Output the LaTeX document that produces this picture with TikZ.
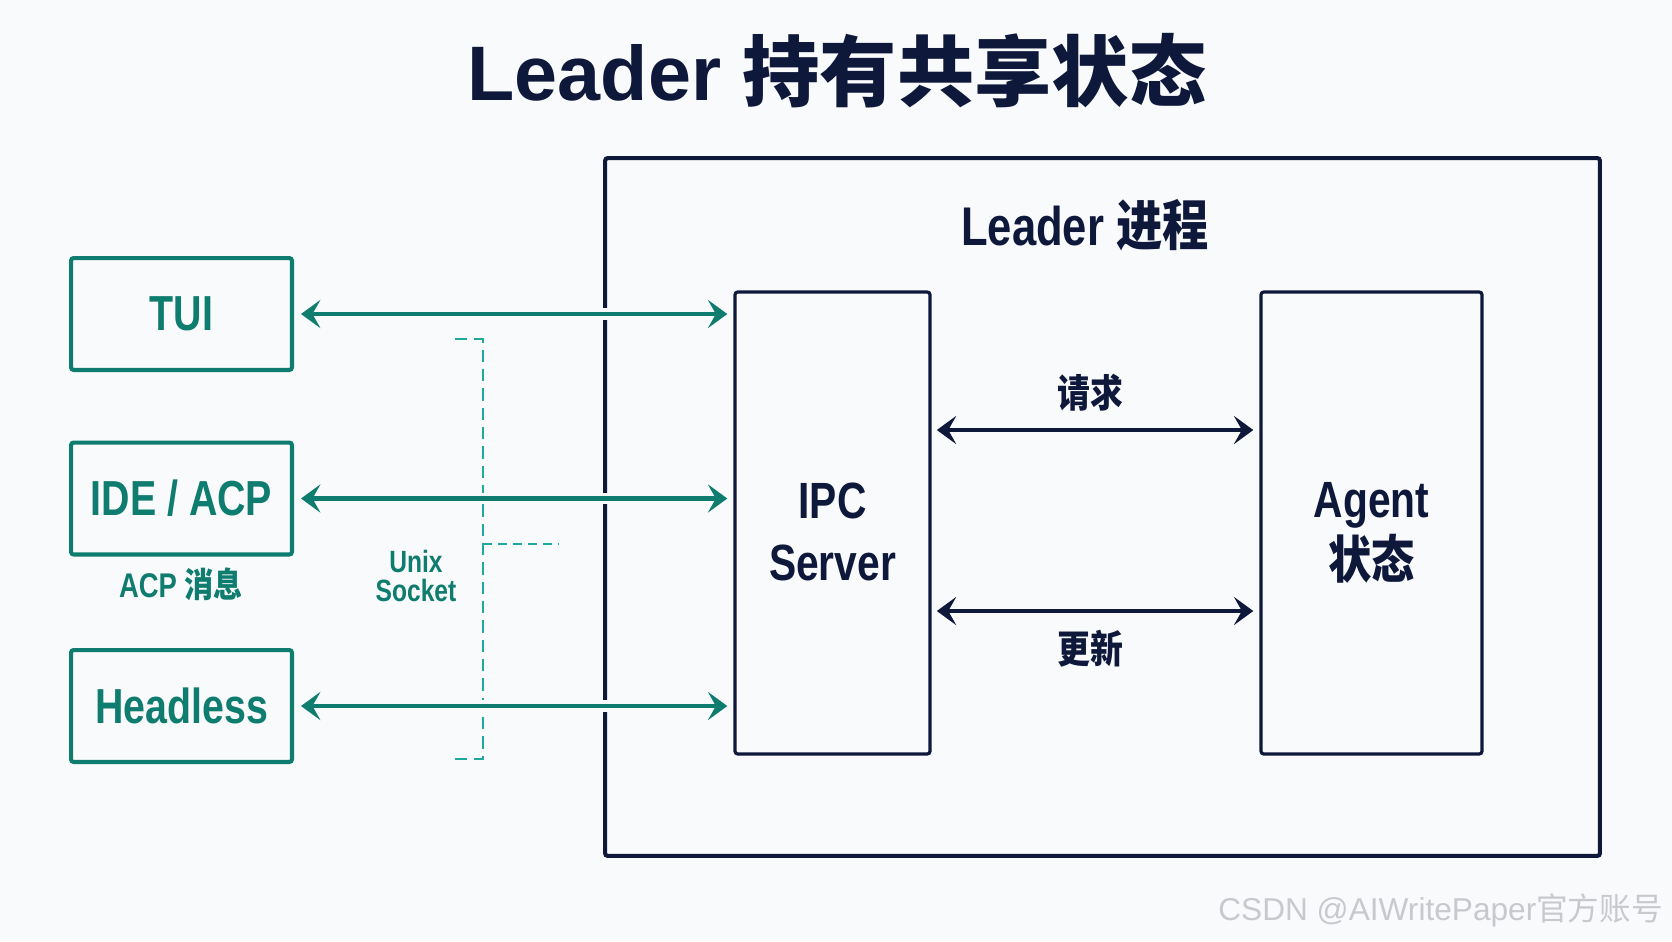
\documentclass[tikz,border=0pt]{standalone}
\usepackage{fontspec}
\usetikzlibrary{arrows.meta,positioning,calc}
\setmainfont{Liberation Sans}
\newfontfamily\narrowsf[FakeStretch=0.8]{Liberation Sans}
\newfontfamily\cjk{Noto Sans CJK SC}
\newfontfamily\narrowcjk[FakeStretch=0.85]{Noto Sans CJK SC}
\definecolor{NavyInk}{RGB}{14,24,58}
\definecolor{TealInk}{RGB}{14,124,110}
\definecolor{DashTeal}{RGB}{30,168,158}
\definecolor{PaperBg}{RGB}{249,250,252}
\definecolor{MarkGray}{RGB}{200,201,206}
\newcommand{\zh}[1]{{\narrowcjk #1}}
\tikzset{
  clientbox/.style={draw=TealInk,line width=2.3pt,rounded corners=1.5pt,
    minimum width=4.42cm,minimum height=2.24cm,inner sep=0pt,text=TealInk,
    font=\narrowsf\bfseries\fontsize{28}{32}\selectfont},
  procbox/.style={draw=NavyInk,line width=1.8pt,rounded corners=1.5pt,
    minimum height=9.24cm,inner sep=0pt},
  proctext/.style={text=NavyInk,align=center,
    font=\narrowsf\bfseries\fontsize{29}{35}\selectfont},
  tealarrow/.style={{Stealth[length=11pt,width=16pt,inset=4.5pt]}-{Stealth[length=11pt,width=16pt,inset=4.5pt]},
    line width=2.3pt,draw=TealInk,shorten <=4pt,shorten >=3.5pt,
    preaction={draw=PaperBg,line width=6.5pt,-}},
  navyarrow/.style={{Stealth[length=11pt,width=16pt,inset=4.5pt]}-{Stealth[length=11pt,width=16pt,inset=4.5pt]},
    line width=2.3pt,draw=NavyInk,shorten <=3pt,shorten >=3.5pt},
  tealnote/.style={text=TealInk,align=center,font=\narrowsf\bfseries\fontsize{17.5}{16.5}\selectfont},
  navynote/.style={text=NavyInk,font=\bfseries\fontsize{22}{26}\selectfont}
}

\begin{document}
\begin{tikzpicture}[x=0.02cm,y=-0.02cm]
  \fill[PaperBg] (0,0) rectangle (1672,941);
  \useasboundingbox (0,0) rectangle (1672,941);
  % title
  \node[text=NavyInk,font=\bfseries\fontsize{44}{50}\selectfont] (title) at (837,71) {Leader {\cjk 持有共享状态}};
  % leader process
  \node[draw=NavyInk,line width=2.3pt,rounded corners=1.5pt,minimum width=19.9cm,minimum height=13.96cm] (leader) at (1102.5,507) {};
  \node[text=NavyInk,font=\narrowsf\bfseries\fontsize{31}{36}\selectfont] (leadername) at (1085,225) {Leader \zh{进程}};
  \node[procbox,minimum width=3.9cm] (ipc) at (832.5,523) {};
  \node[procbox,minimum width=4.42cm] (agent) at (1371.5,523) {};
  \node[proctext] (ipctext) at ([yshift=-0.18cm]ipc.center) {IPC\\Server};
  \node[proctext] (agenttext) at ([yshift=-0.2cm]agent.center) {Agent\\\zh{状态}};
  % clients
  \node[clientbox] (tui) at (181.5,314) {TUI};
  \node[clientbox] (ide) at (181.5,498.5) {IDE / ACP};
  \node[clientbox] (headless) at (181.5,706) {Headless};
  \node[tealnote,font=\narrowsf\bfseries\fontsize{19.5}{22}\selectfont] (acpmsg) at (181,584) {ACP \zh{消息}};
  % unix socket bracket
  \coordinate (sockt) at (483,339);
  \coordinate (sockb) at (483,759);
  \draw[DashTeal,line width=1.6pt,dash pattern=on 7pt off 4pt] ([xshift=-0.56cm]sockt) -- (sockt) -- (sockb) -- ([xshift=-0.56cm]sockb);
  \draw[DashTeal,line width=1.6pt,dash pattern=on 5pt off 3.5pt] (483,544) -- (559,544);
  \node[tealnote] (sock) at (416,576) {Unix\\Socket};
  % links
  \foreach \c in {tui,ide,headless}
    \draw[tealarrow] (\c.east) -- (\c.east -| ipc.west);
  \node[navynote] (reqlab) at (1090,393) {\zh{请求}};
  \node[navynote] (updlab) at (1090,649) {\zh{更新}};
  \coordinate (req) at (1090,430);
  \coordinate (upd) at (1090,611);
  \draw[navyarrow] (req -| ipc.east) -- (req -| agent.west);
  \draw[navyarrow] (upd -| ipc.east) -- (upd -| agent.west);
  % watermark
  \node[anchor=east,text=MarkGray,font=\fontsize{18}{20}\selectfont] (mark) at (1669,910) {CSDN @AIWritePaper{\cjk 官方账号}};
\end{tikzpicture}
\end{document}
